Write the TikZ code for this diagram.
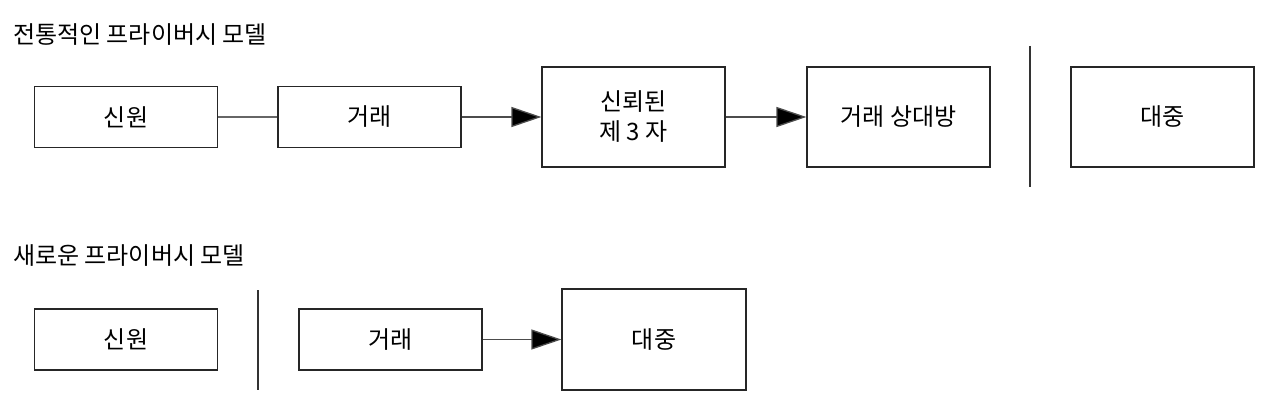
\documentclass[tikz,border=0pt]{standalone}
\usepackage{fontspec}
\setmainfont{Noto Sans CJK KR}
\usetikzlibrary{arrows.meta}
\begin{document}
\begin{tikzpicture}[x=1pt,y=-1pt,
  every node/.style={font=\fontsize{24pt}{30pt}\selectfont},
  box/.style={draw=black!85, line width=1.2pt, rectangle, inner sep=0pt, minimum width=183pt, align=center},
  shortbox/.style={box, minimum height=61pt},
  tallbox/.style={box, minimum height=100pt},
  title/.style={anchor=base west, inner sep=0pt},
  link/.style={draw=black!60, line width=1.3pt},
  flow/.style={draw=black!70, line width=1.3pt, -{Triangle[length=30pt,width=20pt,fill=black]}},
  sep/.style={draw=black!80, line width=1.3pt}
]
\useasboundingbox (0,0) rectangle (1266,401);
\fill[white] (0,0) rectangle (1266,401);

% row 1
\node[title] (t1) at (13,44) {전통적인 프라이버시 모델};
\node[shortbox] (a1) at (126,117) {신원};
\node[shortbox] (b1) at (369.5,117) {거래};
\node[tallbox] (c1) at (633.5,117) {신뢰된\\제 3 자};
\node[tallbox] (d1) at (898.5,117) {거래 상대방};
\node[tallbox] (e1) at (1162.5,117) {대중};
\coordinate (s1a) at (1030,46);
\coordinate (s1b) at (1030,187);
\draw[link] (a1) -- (b1);
\draw[flow] (b1) -- (c1);
\draw[flow] (c1) -- (d1);
\draw[sep] (s1a) -- (s1b);

% row 2
\node[title] (t2) at (13,264) {새로운 프라이버시 모델};
\node[shortbox] (a2) at (126,339.5) {신원};
\node[shortbox] (b2) at (390.5,339.5) {거래};
\node[box, minimum width=184pt, minimum height=101pt] (c2) at (654,339.5) {대중};
\coordinate (s2a) at (258,290);
\coordinate (s2b) at (258,390);
\draw[flow] (b2) -- (c2);
\draw[sep] (s2a) -- (s2b);
\end{tikzpicture}
\end{document}
